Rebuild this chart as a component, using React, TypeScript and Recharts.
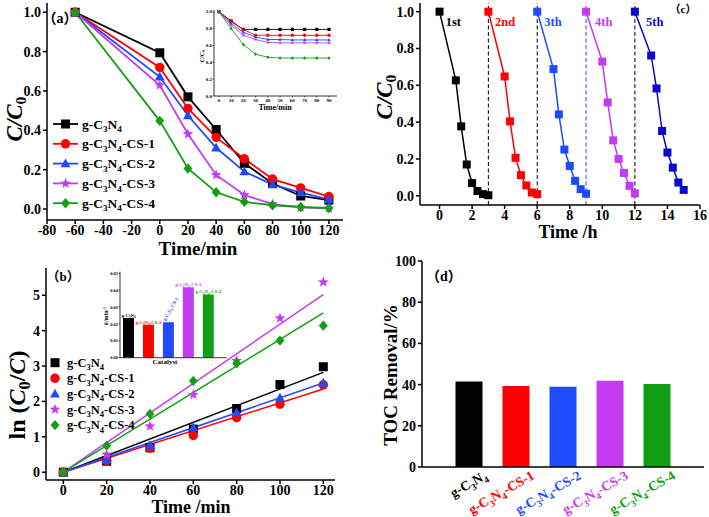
import React from 'react';
import {
  LineChart, Line, XAxis, YAxis, ComposedChart, Scatter, BarChart, Bar, Cell,
  ReferenceLine, LabelList,
} from 'recharts';

// ---------- shared ----------
const FONT = "'Liberation Serif','Times New Roman',serif";
const CJK = "'Liberation Serif','Noto Sans CJK SC',serif";
const names = ['g-C3N4', 'g-C3N4-CS-1', 'g-C3N4-CS-2', 'g-C3N4-CS-3', 'g-C3N4-CS-4'];
const colors = ['#000000', '#FF0000', '#1F4BFF', '#C33CF2', '#139F13'];
const shapes = ['square', 'circle', 'triangle', 'star', 'diamond'];

// ---------- panel (a) ----------
const timeA = [-60, 0, 20, 40, 60, 80, 100, 120];
const aBlack = [1.0, 0.794, 0.57, 0.404, 0.232, 0.13, 0.066, 0.045];
const aRed = [1.0, 0.719, 0.511, 0.364, 0.255, 0.152, 0.107, 0.063];
const aBlue = [1.0, 0.672, 0.475, 0.311, 0.19, 0.124, 0.083, 0.049];
const aPurple = [1.0, 0.629, 0.381, 0.173, 0.071, 0.025, 0.008, 0.003];
const aGreen = [1.0, 0.448, 0.206, 0.085, 0.036, 0.019, 0.01, 0.005];
const aTicksX = [-80, -60, -40, -20, 0, 20, 40, 60, 80, 100, 120];
const aTicksY = [0, 0.2, 0.4, 0.6, 0.8, 1.0];

// inset of (a)
const timeI = [0, 10, 20, 30, 40, 50, 60, 70, 80, 90];
const iBlack = [1.0, 0.89, 0.79, 0.79, 0.79, 0.79, 0.79, 0.79, 0.79, 0.79];
const iRed = [1.0, 0.88, 0.79, 0.72, 0.72, 0.72, 0.72, 0.72, 0.72, 0.72];
const iBlue = [1.0, 0.86, 0.755, 0.70, 0.67, 0.67, 0.665, 0.665, 0.665, 0.665];
const iPurple = [1.0, 0.84, 0.72, 0.67, 0.635, 0.63, 0.63, 0.63, 0.63, 0.63];
const iGreen = [1.0, 0.80, 0.61, 0.495, 0.46, 0.45, 0.45, 0.45, 0.45, 0.45];
const iTicksX = [0, 10, 20, 30, 40, 50, 60, 70, 80, 90];
const iTicksY = [0, 0.2, 0.4, 0.6, 0.8, 1.0];

// ---------- panel (b) ----------
const timeB = [0, 20, 40, 60, 80, 100, 120];
const bBlack = [0, 0.31, 0.69, 1.22, 1.80, 2.48, 2.98];
const bRed = [0, 0.33, 0.68, 1.04, 1.54, 1.92, 2.47];
const bBlue = [0, 0.35, 0.76, 1.26, 1.68, 2.10, 2.52];
const bPurple = [0, 0.50, 1.30, 2.19, 3.15, 4.35, 5.37];
const bGreen = [0, 0.75, 1.65, 2.58, 3.08, 3.72, 4.14];
const fitTime = [0, 120];
const fitBlack = [0, 2.82];
const fitRed = [0, 2.35];
const fitBlue = [0, 2.52];
const fitPurple = [0, 5.02];
const fitGreen = [0, 4.50];
const bTicksX = [0, 20, 40, 60, 80, 100, 120];
const bTicksY = [0, 1, 2, 3, 4, 5];

// inset of (b)
const kPositions = [1, 2, 3, 4, 5];
const kValues = [0.0235, 0.0196, 0.0210, 0.0418, 0.0375];
const kTicksY = [0, 0.01, 0.02, 0.03, 0.04, 0.05];

// ---------- panel (c) ----------
const c1t = [0, 1, 1.33, 1.67, 2, 2.33, 2.67, 3];
const c1 = [1.0, 0.627, 0.377, 0.17, 0.069, 0.026, 0.009, 0.003];
const c2t = [3, 4, 4.33, 4.67, 5, 5.33, 5.67, 6];
const c2 = [1.0, 0.648, 0.404, 0.206, 0.112, 0.056, 0.018, 0.009];
const c3t = [6, 7, 7.33, 7.67, 8, 8.33, 8.67, 9];
const c3 = [1.0, 0.688, 0.442, 0.251, 0.162, 0.081, 0.036, 0.011];
const c4t = [9, 10, 10.33, 10.67, 11, 11.33, 11.67, 12];
const c4 = [1.0, 0.729, 0.507, 0.301, 0.2, 0.124, 0.054, 0.013];
const c5t = [12, 13, 13.33, 13.67, 14, 14.33, 14.67, 15];
const c5 = [1.0, 0.762, 0.583, 0.352, 0.235, 0.153, 0.072, 0.032];
const cycleColors = ['#000000', '#FF0000', '#1F4BFF', '#C33CF2', '#0A0ACC'];
const cycleLabels = ['1st', '2nd', '3th', '4th', '5th'];
const dividers = [3, 6, 9, 12];
const dividerColors = ['#000000', '#000000', '#1F4BFF', '#000000'];
const cTicksX = [0, 2, 4, 6, 8, 10, 12, 14, 16];
const cTicksY = [0, 0.2, 0.4, 0.6, 0.8, 1.0];

// ---------- panel (d) ----------
const tocPositions = [1, 2, 3, 4, 5];
const tocValues = [41.5, 39.3, 38.9, 41.9, 40.3];
const dTicksY = [0, 20, 40, 60, 80, 100];

// ---------- built tables ----------
const aSeries = [aBlack, aRed, aBlue, aPurple, aGreen];
const rowsA = timeA.map((t, i) => {
  const r: any = { t };
  aSeries.forEach((s, j) => { r['s' + j] = s[i]; });
  return r;
});
const iSeries = [iBlack, iRed, iBlue, iPurple, iGreen];
const rowsI = timeI.map((t, i) => {
  const r: any = { t };
  iSeries.forEach((s, j) => { r['s' + j] = s[i]; });
  return r;
});
const bSeries = [bBlack, bRed, bBlue, bPurple, bGreen];
const bPoints = bSeries.map((s) => timeB.map((x, i) => ({ x, y: s[i] })));
const fitSeries = [fitBlack, fitRed, fitBlue, fitPurple, fitGreen];
const fitLines = fitSeries.map((s) => fitTime.map((x, i) => ({ x, y: s[i] })));
const rowsK = kPositions.map((p, i) => ({ pos: p, k: kValues[i] }));
const cycles = [[c1t, c1], [c2t, c2], [c3t, c3], [c4t, c4], [c5t, c5]].map(
  ([ts, ys]) => ts.map((x, i) => ({ x, y: ys[i] }))
);
const rowsToc = tocPositions.map((p, i) => ({ pos: p, v: tocValues[i] }));

// ---------- helpers ----------
type Seg = { t: string; sub?: boolean; sup?: boolean; it?: boolean };

function chemSegs(name: string): Seg[] {
  const rest = name.replace(/^g-C3N4/, '');
  const segs: Seg[] = [{ t: 'g-C' }, { t: '3', sub: true }, { t: 'N' }, { t: '4', sub: true }];
  if (rest) segs.push({ t: rest });
  return segs;
}

function rich(segs: Seg[], fs: number, subShift = 0.28) {
  let shift = 0;
  return segs.map((s, i) => {
    const target = s.sub ? fs * subShift : s.sup ? -fs * 0.38 : 0;
    const dy = target - shift;
    shift = target;
    return (
      <tspan
        key={i}
        dy={dy !== 0 ? dy : undefined}
        fontSize={s.sub || s.sup ? fs * 0.68 : undefined}
        fontStyle={s.it ? 'italic' : undefined}
      >
        {s.t}
      </tspan>
    );
  });
}

function T({ x, y, fs, segs, anchor = 'start', rotate, fill = '#000', family = FONT, subShift = 0.28 }: any) {
  return (
    <text
      x={x}
      y={y}
      fontSize={fs}
      fontFamily={family}
      fontWeight={700}
      fill={fill}
      textAnchor={anchor}
      transform={rotate ? `rotate(${rotate} ${x} ${y})` : undefined}
    >
      {rich(segs, fs, subShift)}
    </text>
  );
}

function Marker({ cx, cy, shape, color, size }: any) {
  if (cx == null || cy == null || isNaN(cx) || isNaN(cy)) return null;
  const h = size / 2;
  if (shape === 'square') return <rect x={cx - h} y={cy - h} width={size} height={size} fill={color} />;
  if (shape === 'circle') return <circle cx={cx} cy={cy} r={h * 1.05} fill={color} />;
  if (shape === 'triangle')
    return (
      <polygon
        points={`${cx},${cy - h * 1.15} ${cx - h * 1.1},${cy + h * 0.8} ${cx + h * 1.1},${cy + h * 0.8}`}
        fill={color}
      />
    );
  if (shape === 'diamond')
    return (
      <polygon
        points={`${cx},${cy - h * 1.15} ${cx + h},${cy} ${cx},${cy + h * 1.15} ${cx - h},${cy}`}
        fill={color}
      />
    );
  const R = h * 1.25;
  const r = R * 0.42;
  const pts: string[] = [];
  for (let k = 0; k < 10; k++) {
    const ang = -Math.PI / 2 + (k * Math.PI) / 5;
    const rr = k % 2 === 0 ? R : r;
    pts.push(`${cx + rr * Math.cos(ang)},${cy + rr * Math.sin(ang)}`);
  }
  return <polygon points={pts.join(' ')} fill={color} />;
}

const dotRenderer = (shape: string, color: string, size: number) => (p: any) => (
  <Marker key={`m${p.index}`} cx={p.cx} cy={p.cy} shape={shape} color={color} size={size} />
);

const tickStyle = (fs: number) => ({ fill: '#000', fontSize: fs, fontWeight: 700, fontFamily: FONT });
const axisLine = (w: number) => ({ stroke: '#000', strokeWidth: w });

const frameAxes = (w: number) => [
  <XAxis
    key="fx"
    xAxisId="top"
    orientation="top"
    type="number"
    domain={[0, 1]}
    allowDataOverflow
    height={0}
    tick={false}
    tickLine={false}
    axisLine={axisLine(w)}
  />,
  <YAxis
    key="fy"
    yAxisId="right"
    orientation="right"
    type="number"
    domain={[0, 1]}
    allowDataOverflow
    width={0}
    tick={false}
    tickLine={false}
    axisLine={axisLine(w)}
  />,
];

function TocTick(props: any) {
  const { x, y, payload } = props;
  const i = Math.round(payload.value) - 1;
  if (i < 0 || i > 4) return null;
  return (
    <g transform={`translate(${x + 19},${y + 11}) rotate(-30)`}>
      <text x={0} y={0} textAnchor="end" fill={colors[i]} fontSize={13.5} fontWeight={700} fontFamily={FONT}>
        {rich(chemSegs(names[i]), 13.5)}
      </text>
    </g>
  );
}

function KLabel(props: any) {
  const { x, y, width, index } = props;
  if (x == null) return null;
  const cx = x + width / 2;
  const fs = 4.8;
  const segs = chemSegs(names[index]);
  if (index === 2) {
    return (
      <text
        transform={`translate(${cx - 3},${y - 1}) rotate(-60)`}
        textAnchor="start"
        fill={colors[index]}
        fontSize={fs}
        fontWeight={700}
        fontFamily={FONT}
      >
        {rich(segs, fs)}
      </text>
    );
  }
  return (
    <text x={cx} y={y - 1} textAnchor="middle" fill={colors[index]} fontSize={fs} fontWeight={700} fontFamily={FONT}>
      {rich(segs, fs)}
    </text>
  );
}

const abs = (left: number, top: number): React.CSSProperties => ({ position: 'absolute', left, top });

export default function App() {
  const ccSegs: Seg[] = [{ t: 'C', it: true }, { t: '/', it: true }, { t: 'C', it: true }, { t: '0', sub: true }];
  return (
    <div style={{ position: 'absolute', left: 0, top: 0, width: 709, height: 517, background: '#fff', overflow: 'hidden' }}>
      {/* (a) main */}
      <div style={abs(0, 0)}>
        <LineChart width={350} height={258} data={rowsA} margin={{ top: 3, right: 7, left: 0, bottom: 0 }}>
          <XAxis
            dataKey="t"
            type="number"
            domain={[-80, 130]}
            allowDataOverflow
            ticks={aTicksX}
            interval={0}
            height={38}
            tick={tickStyle(14)}
            tickSize={4}
            tickMargin={1}
            axisLine={axisLine(1.5)}
            tickLine={axisLine(1.5)}
          />
          <YAxis
            type="number"
            domain={[-0.056, 1.047]}
            allowDataOverflow
            ticks={aTicksY}
            interval={0}
            tickFormatter={(v: number) => v.toFixed(1)}
            width={47}
            tick={tickStyle(14)}
            tickSize={4}
            tickMargin={2}
            axisLine={axisLine(1.5)}
            tickLine={axisLine(1.5)}
          />
          {frameAxes(1.5)}
          {names.map((n, i) => (
            <Line
              key={n}
              type="linear"
              dataKey={'s' + i}
              stroke={colors[i]}
              strokeWidth={1.8}
              dot={dotRenderer(shapes[i], colors[i], 9)}
              activeDot={false}
              isAnimationActive={false}
            />
          ))}
        </LineChart>
      </div>

      {/* (a) inset */}
      <div style={abs(195, 6)}>
        <LineChart width={145} height={104} data={rowsI} margin={{ top: 4, right: 3, left: 0, bottom: 0 }}>
          <XAxis
            dataKey="t"
            type="number"
            domain={[-4, 96.5]}
            allowDataOverflow
            ticks={iTicksX}
            interval={0}
            height={14}
            tick={tickStyle(5)}
            tickSize={1.5}
            tickMargin={0.5}
            axisLine={axisLine(0.8)}
            tickLine={axisLine(0.6)}
          />
          <YAxis
            type="number"
            domain={[0, 1.02]}
            allowDataOverflow
            ticks={iTicksY}
            interval={0}
            tickFormatter={(v: number) => v.toFixed(1)}
            width={19}
            tick={tickStyle(5)}
            tickSize={1.5}
            tickMargin={0.5}
            axisLine={axisLine(0.8)}
            tickLine={axisLine(0.6)}
          />
          {frameAxes(0.8)}
          {names.map((n, i) => (
            <Line
              key={n}
              type="linear"
              dataKey={'s' + i}
              stroke={colors[i]}
              strokeWidth={0.9}
              dot={dotRenderer(shapes[i], colors[i], 3.2)}
              activeDot={false}
              isAnimationActive={false}
            />
          ))}
        </LineChart>
      </div>

      {/* (c) */}
      <div style={abs(360, 0)}>
        <LineChart width={349} height={245} margin={{ top: 3, right: 9, left: 0, bottom: 0 }}>
          <XAxis
            dataKey="x"
            type="number"
            domain={[-1.2, 16]}
            allowDataOverflow
            ticks={cTicksX}
            interval={0}
            height={40}
            tick={tickStyle(14)}
            tickSize={4}
            tickMargin={1}
            axisLine={axisLine(1.5)}
            tickLine={axisLine(1.5)}
          />
          <YAxis
            type="number"
            domain={[-0.05, 1.047]}
            allowDataOverflow
            ticks={cTicksY}
            interval={0}
            tickFormatter={(v: number) => v.toFixed(1)}
            width={60}
            tick={tickStyle(14)}
            tickSize={4}
            tickMargin={2}
            axisLine={axisLine(1.5)}
            tickLine={axisLine(1.5)}
          />
          {frameAxes(1.5)}
          {dividers.map((d, i) => (
            <ReferenceLine key={'d' + d} x={d} stroke={dividerColors[i]} strokeWidth={1} strokeDasharray="4 2.5" />
          ))}
          {cycles.map((data, i) => (
            <Line
              key={'c' + i}
              data={data}
              type="linear"
              dataKey="y"
              stroke={cycleColors[i]}
              strokeWidth={1.5}
              dot={dotRenderer('square', cycleColors[i], 8)}
              activeDot={false}
              isAnimationActive={false}
            />
          ))}
        </LineChart>
      </div>

      {/* (b) main */}
      <div style={abs(0, 258)}>
        <ComposedChart width={350} height={259} margin={{ top: 10, right: 15, left: 0, bottom: 0 }}>
          <XAxis
            dataKey="x"
            type="number"
            domain={[-8, 125.4]}
            allowDataOverflow
            ticks={bTicksX}
            interval={0}
            height={37}
            tick={tickStyle(14)}
            tickSize={4}
            tickMargin={1}
            axisLine={axisLine(1.5)}
            tickLine={axisLine(1.5)}
          />
          <YAxis
            dataKey="y"
            type="number"
            domain={[-0.22, 5.77]}
            allowDataOverflow
            ticks={bTicksY}
            interval={0}
            width={46}
            tick={tickStyle(14)}
            tickSize={4}
            tickMargin={2}
            axisLine={axisLine(1.5)}
            tickLine={axisLine(1.5)}
          />
          {frameAxes(1.5)}
          {fitLines.map((data, i) => (
            <Line
              key={'f' + i}
              data={data}
              type="linear"
              dataKey="y"
              stroke={colors[i]}
              strokeWidth={1.5}
              dot={false}
              activeDot={false}
              isAnimationActive={false}
            />
          ))}
          {bPoints.map((data, i) => (
            <Scatter
              key={'p' + i}
              data={data}
              dataKey="y"
              fill={colors[i]}
              isAnimationActive={false}
              shape={(p: any) => <Marker cx={p.cx} cy={p.cy} shape={shapes[i]} color={colors[i]} size={9} />}
            />
          ))}
        </ComposedChart>
      </div>

      {/* (b) inset */}
      <div style={abs(95, 268)}>
        <BarChart width={135} height={97} data={rowsK} margin={{ top: 3.7, right: 3.3, left: 0, bottom: 0 }}>
          <XAxis
            dataKey="pos"
            type="number"
            domain={[0.55, 5.9]}
            allowDataOverflow
            height={7.3}
            tick={false}
            tickLine={false}
            axisLine={axisLine(0.8)}
          />
          <YAxis
            type="number"
            domain={[0, 0.051]}
            allowDataOverflow
            ticks={kTicksY}
            interval={0}
            tickFormatter={(v: number) => v.toFixed(2)}
            width={25}
            tick={tickStyle(4.5)}
            tickSize={1.5}
            tickMargin={0.5}
            axisLine={axisLine(0.8)}
            tickLine={axisLine(0.6)}
          />
          {frameAxes(0.8)}
          <Bar dataKey="k" barSize={11} isAnimationActive={false}>
            {rowsK.map((r, i) => (
              <Cell key={'k' + i} fill={colors[i]} />
            ))}
            <LabelList dataKey="k" content={KLabel} />
          </Bar>
        </BarChart>
      </div>

      {/* (d) */}
      <div style={abs(360, 245)}>
        <BarChart width={349} height={272} data={rowsToc} margin={{ top: 16, right: 5, left: 0, bottom: 0 }}>
          <XAxis
            dataKey="pos"
            type="number"
            domain={[0, 6]}
            allowDataOverflow
            ticks={tocPositions}
            interval={0}
            height={50}
            tick={TocTick}
            tickSize={0}
            tickMargin={0}
            tickLine={false}
            axisLine={axisLine(1.5)}
          />
          <YAxis
            type="number"
            domain={[0, 100]}
            allowDataOverflow
            ticks={dTicksY}
            interval={0}
            width={62}
            tick={tickStyle(14)}
            tickSize={4}
            tickMargin={2}
            axisLine={axisLine(1.5)}
            tickLine={axisLine(1.5)}
          />
          {frameAxes(1.5)}
          <Bar dataKey="v" barSize={27} isAnimationActive={false}>
            {rowsToc.map((r, i) => (
              <Cell key={'t' + i} fill={colors[i]} />
            ))}
          </Bar>
        </BarChart>
      </div>

      {/* annotations */}
      <svg width={709} height={517} style={{ position: 'absolute', left: 0, top: 0, pointerEvents: 'none' }}>
        {/* (a) */}
        <T x={42.5} y={23} fs={14} segs={[{ t: '（a）' }]} family={CJK} />
        <T x={22} y={119} fs={23} segs={ccSegs} anchor="middle" rotate={-90} subShift={0.18} />
        <T x={198} y={254.5} fs={19} segs={[{ t: 'Time/min' }]} anchor="middle" />
        {names.map((n, i) => {
          const y = 124 + 19.8 * i;
          return (
            <g key={'la' + i}>
              <line x1={53} x2={78} y1={y} y2={y} stroke={colors[i]} strokeWidth={1.8} />
              <Marker cx={65.5} cy={y} shape={shapes[i]} color={colors[i]} size={9} />
              <T x={82} y={y + 4.5} fs={13.5} segs={chemSegs(n)} />
            </g>
          );
        })}
        <T x={275} y={110} fs={8} segs={[{ t: 'Time/min' }]} anchor="middle" />
        <T x={204} y={56} fs={6.5} segs={ccSegs} anchor="middle" rotate={-90} subShift={0.2} />

        {/* (b) */}
        <T x={46.5} y={281} fs={13} segs={[{ t: '（b）' }]} family={CJK} />
        <T
          x={25}
          y={395}
          fs={24}
          segs={[{ t: 'ln (' }, { t: 'C', it: true }, { t: '0', sub: true }, { t: '/' }, { t: 'C', it: true }, { t: ')' }]}
          anchor="middle"
          rotate={-90}
          subShift={0.22}
        />
        <T x={191} y={513} fs={18} segs={[{ t: 'Time /min' }]} anchor="middle" />
        {names.map((n, i) => {
          const y = 362.7 + 15.6 * i;
          return (
            <g key={'lb' + i}>
              <Marker cx={55} cy={y} shape={shapes[i]} color={colors[i]} size={9} />
              <T x={67} y={y + 4} fs={12.5} segs={chemSegs(n)} />
            </g>
          );
        })}
        <T x={165} y={364} fs={7} segs={[{ t: 'Catalyst' }]} anchor="middle" />
        <T
          x={108}
          y={316}
          fs={6}
          segs={[{ t: 'k', it: true }, { t: '/min' }, { t: '-1', sup: true }]}
          anchor="middle"
          rotate={-90}
        />

        {/* (c) */}
        <T x={669.5} y={13.3} fs={11} segs={[{ t: '（c）' }]} family={CJK} />
        <T x={392} y={97} fs={23} segs={ccSegs} anchor="middle" rotate={-90} subShift={0.18} />
        <T x={568} y={238} fs={18} segs={[{ t: 'Time /h' }]} anchor="middle" />
        {cycleLabels.map((l, i) => (
          <T key={'cl' + i} x={[445.7, 495, 544.3, 595, 646][i]} y={26} fs={12.5} segs={[{ t: l }]} fill={cycleColors[i]} />
        ))}

        {/* (d) */}
        <T x={426} y={281} fs={14} segs={[{ t: '（d）' }]} family={CJK} />
        <T x={396.5} y={375} fs={19} segs={[{ t: 'TOC Removal/%' }]} anchor="middle" rotate={-90} />
      </svg>
    </div>
  );
}
